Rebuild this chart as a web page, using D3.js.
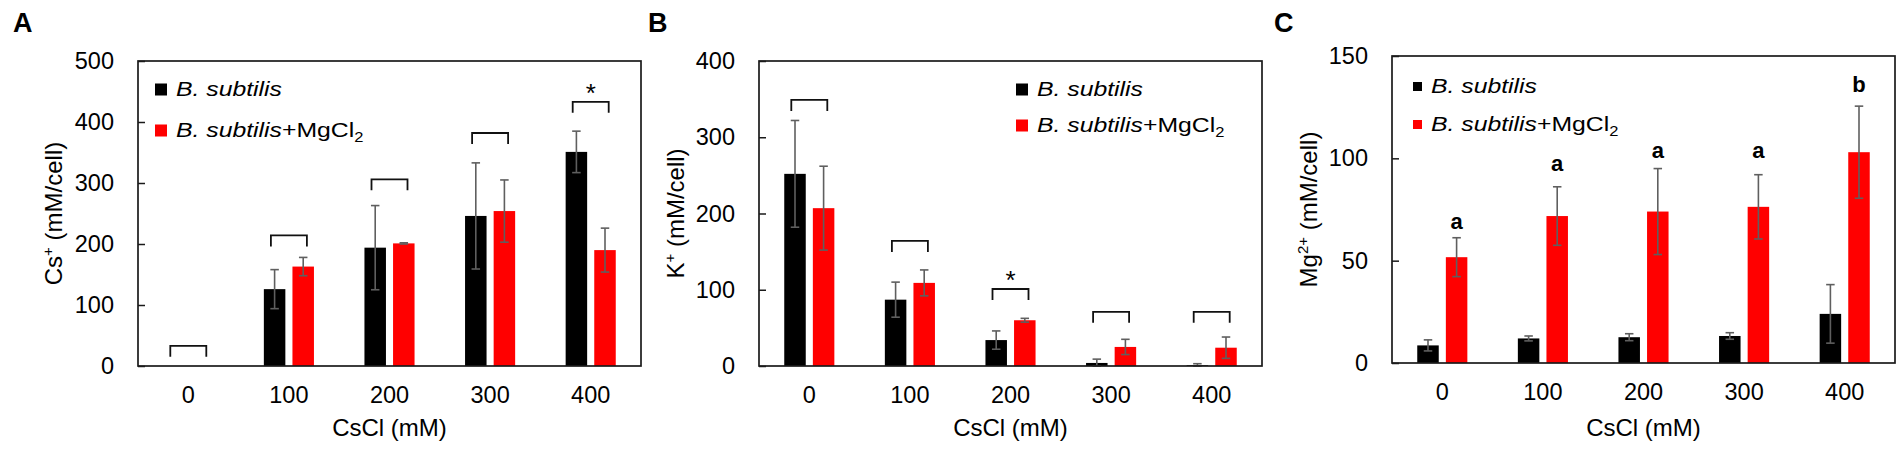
<!DOCTYPE html>
<html>
<head>
<meta charset="utf-8">
<script src="https://cdn.jsdelivr.net/npm/d3@7"></script>
<style>
  body { margin: 0; background: #fff; }
  text { font-family: "Liberation Sans", Arial, sans-serif; fill: #000; }
</style>
</head>
<body>
<div id="app"></div>
<script>
// CsCl doses on the x axis
const doses = ["0", "100", "200", "300", "400"];

// Panel A: Cs+ (mM/cell)
const csTicks = [0, 100, 200, 300, 400, 500];
const csBs = [0, 126, 194, 246, 351];
const csBsErr = [0, 32, 69, 87, 34];
const csMg = [0, 163, 201, 254, 190];
const csMgErr = [0, 15, 1, 51, 36];
const csBracket = [33, 214, 306, 382, 433];
const csSig = ["", "", "", "", "*"];

// Panel B: K+ (mM/cell)
const kTicks = [0, 100, 200, 300, 400];
const kBs = [252, 87, 34, 4, 1];
const kBsErr = [70, 23, 12, 5, 2];
const kMg = [207, 109, 60, 25, 24];
const kMgErr = [55, 17, 2.5, 10, 14];
const kBracket = [349, 164, 101, 71, 71];
const kSig = ["", "", "*", "", ""];

// Panel C: Mg2+ (mM/cell)
const mgTicks = [0, 50, 100, 150];
const mgBs = [8.6, 12, 12.6, 13.2, 24];
const mgBsErr = [2.7, 1.2, 1.7, 1.6, 14.3];
const mgMg = [51.7, 71.8, 74, 76.3, 103];
const mgMgErr = [9.5, 14.3, 21, 15.7, 22.5];
const mgLetters = ["a", "a", "a", "a", "b"];
const mgLetterAt = [65.3, 93.8, 100.4, 100, 132.6];

const legendNames = ["B. subtilis", "B. subtilis"];

const width = 1902,
      height = 451;

const svg = d3.select("#app").append("svg")
    .attr("width", width)
    .attr("height", height);

const panels = [
  { letter: "A", lx: 13, x0: 138, x1: 641, y0: 61, y1: 366, max: 500, ticks: csTicks,
    bs: csBs, bsErr: csBsErr, mg: csMg, mgErr: csMgErr, brackets: csBracket, sig: csSig,
    ion: "Cs", charge: "+", titleX: 62, legX: 155, legY: [96, 137], sq: 12 },
  { letter: "B", lx: 648, x0: 759, x1: 1262, y0: 61, y1: 366, max: 400, ticks: kTicks,
    bs: kBs, bsErr: kBsErr, mg: kMg, mgErr: kMgErr, brackets: kBracket, sig: kSig,
    ion: "K", charge: "+", titleX: 684, legX: 1016, legY: [96, 132], sq: 12 },
  { letter: "C", lx: 1274, x0: 1392, x1: 1895, y0: 56, y1: 363, max: 150, ticks: mgTicks,
    bs: mgBs, bsErr: mgBsErr, mg: mgMg, mgErr: mgMgErr, letters: mgLetters, letterAt: mgLetterAt,
    ion: "Mg", charge: "2+", titleX: 1317, legX: 1413, legY: [93, 131], sq: 9 }
];

const barW = 21.5,
      halfGap = 14.3,
      capW = 8.5,
      errColor = "#5f5f5f";

const drawPanel = (p) => {
  const x = d3.scaleBand().domain(doses).range([p.x0, p.x1]);
  const y = d3.scaleLinear().domain([0, p.max]).range([p.y1, p.y0]);
  const cx = (d) => x(d) + x.bandwidth() / 2;
  const g = svg.append("g");

  const series = [
    { vals: p.bs, err: p.bsErr, color: "#000", off: -halfGap },
    { vals: p.mg, err: p.mgErr, color: "#ff0000", off: halfGap }
  ];

  series.forEach(s => {
    g.append("g").selectAll("rect")
      .data(doses)
      .join("rect")
      .attr("x", (d) => cx(d) + s.off - barW / 2)
      .attr("width", barW)
      .attr("y", (d, i) => y(s.vals[i]))
      .attr("height", (d, i) => y(0) - y(s.vals[i]))
      .attr("fill", s.color);

    const eb = g.append("g")
      .attr("stroke", errColor)
      .attr("stroke-width", 1.6)
      .selectAll("g")
      .data(doses.filter((d, i) => s.err[i] > 0))
      .join("g");
    const hi = (d) => y(s.vals[doses.indexOf(d)] + s.err[doses.indexOf(d)]);
    const lo = (d) => y(Math.max(0, s.vals[doses.indexOf(d)] - s.err[doses.indexOf(d)]));
    eb.append("line")
      .attr("x1", (d) => cx(d) + s.off).attr("x2", (d) => cx(d) + s.off)
      .attr("y1", hi).attr("y2", lo);
    eb.append("line")
      .attr("x1", (d) => cx(d) + s.off - capW / 2).attr("x2", (d) => cx(d) + s.off + capW / 2)
      .attr("y1", hi).attr("y2", hi);
    eb.append("line")
      .attr("x1", (d) => cx(d) + s.off - capW / 2).attr("x2", (d) => cx(d) + s.off + capW / 2)
      .attr("y1", lo).attr("y2", lo);
  });

  // frame
  g.append("rect")
    .attr("x", p.x0).attr("y", p.y0)
    .attr("width", p.x1 - p.x0).attr("height", p.y1 - p.y0)
    .attr("fill", "none")
    .attr("stroke", "#1a1a1a")
    .attr("stroke-width", 1.7);

  // y axis, ticks point inward
  const ya = g.append("g")
    .attr("transform", `translate(${p.x0},0)`)
    .call(d3.axisLeft(y).tickValues(p.ticks).tickSizeInner(-7).tickSizeOuter(0).tickPadding(24));
  ya.select(".domain").remove();
  ya.selectAll("line").attr("stroke", "#1a1a1a").attr("stroke-width", 1.5);
  ya.selectAll("text").attr("font-size", 23.5).attr("font-family", null).attr("fill", "#000");

  const xa = g.append("g")
    .attr("transform", `translate(0,${p.y1})`)
    .call(d3.axisBottom(x).tickSize(0).tickPadding(20));
  xa.select(".domain").remove();
  xa.selectAll("text").attr("font-size", 23.5).attr("font-family", null).attr("fill", "#000");

  // brackets and asterisks
  if (p.brackets) {
    const br = g.append("g").selectAll("g").data(doses).join("g");
    br.append("path")
      .attr("d", (d, i) => {
        const yy = y(p.brackets[i]);
        return `M${cx(d) - 18},${yy + 11}V${yy}H${cx(d) + 18}V${yy + 11}`;
      })
      .attr("fill", "none")
      .attr("stroke", "#111")
      .attr("stroke-width", 1.8);
    br.append("text")
      .attr("x", (d) => cx(d))
      .attr("y", (d, i) => y(p.brackets[i]))
      .attr("text-anchor", "middle")
      .attr("font-size", 26)
      .text((d, i) => p.sig[i]);
  }

  // letters above the red bars
  if (p.letters) {
    g.append("g").selectAll("text")
      .data(doses)
      .join("text")
      .attr("x", (d) => cx(d) + halfGap)
      .attr("y", (d, i) => y(p.letterAt[i]))
      .attr("text-anchor", "middle")
      .attr("font-size", 22)
      .attr("font-weight", "bold")
      .text((d, i) => p.letters[i]);
  }

  // legend
  const leg = g.append("g");
  ["#000", "#ff0000"].forEach((c, i) => {
    leg.append("rect")
      .attr("x", p.legX)
      .attr("y", p.legY[i] - 11 - (p.sq - 9) / 2)
      .attr("width", p.sq).attr("height", p.sq)
      .attr("fill", c);
    const t = leg.append("text")
      .attr("transform", `translate(${p.legX + p.sq + 9},${p.legY[i]}) scale(1.18,1)`)
      .attr("font-size", 21);
    t.append("tspan").attr("font-style", "italic").text(legendNames[i]);
    if (i === 1) {
      t.append("tspan").text("+MgCl");
      t.append("tspan").attr("font-size", 14).attr("dy", 5).text("2");
    }
  });

  // axis titles
  g.append("text")
    .attr("x", (p.x0 + p.x1) / 2)
    .attr("y", 436)
    .attr("text-anchor", "middle")
    .attr("font-size", 24)
    .text("CsCl (mM)");

  const yt = g.append("text")
    .attr("transform", `translate(${p.titleX},${(p.y0 + p.y1) / 2}) rotate(-90)`)
    .attr("text-anchor", "middle")
    .attr("font-size", 24);
  yt.append("tspan").text(p.ion);
  yt.append("tspan").attr("font-size", 15).attr("dy", -9).text(p.charge);
  yt.append("tspan").attr("dy", 9).text(" (mM/cell)");

  // panel letter
  svg.append("text")
    .attr("x", p.lx).attr("y", 32)
    .attr("font-size", 27)
    .attr("font-weight", "bold")
    .text(p.letter);
};

panels.forEach(drawPanel);
</script>
</body>
</html>
